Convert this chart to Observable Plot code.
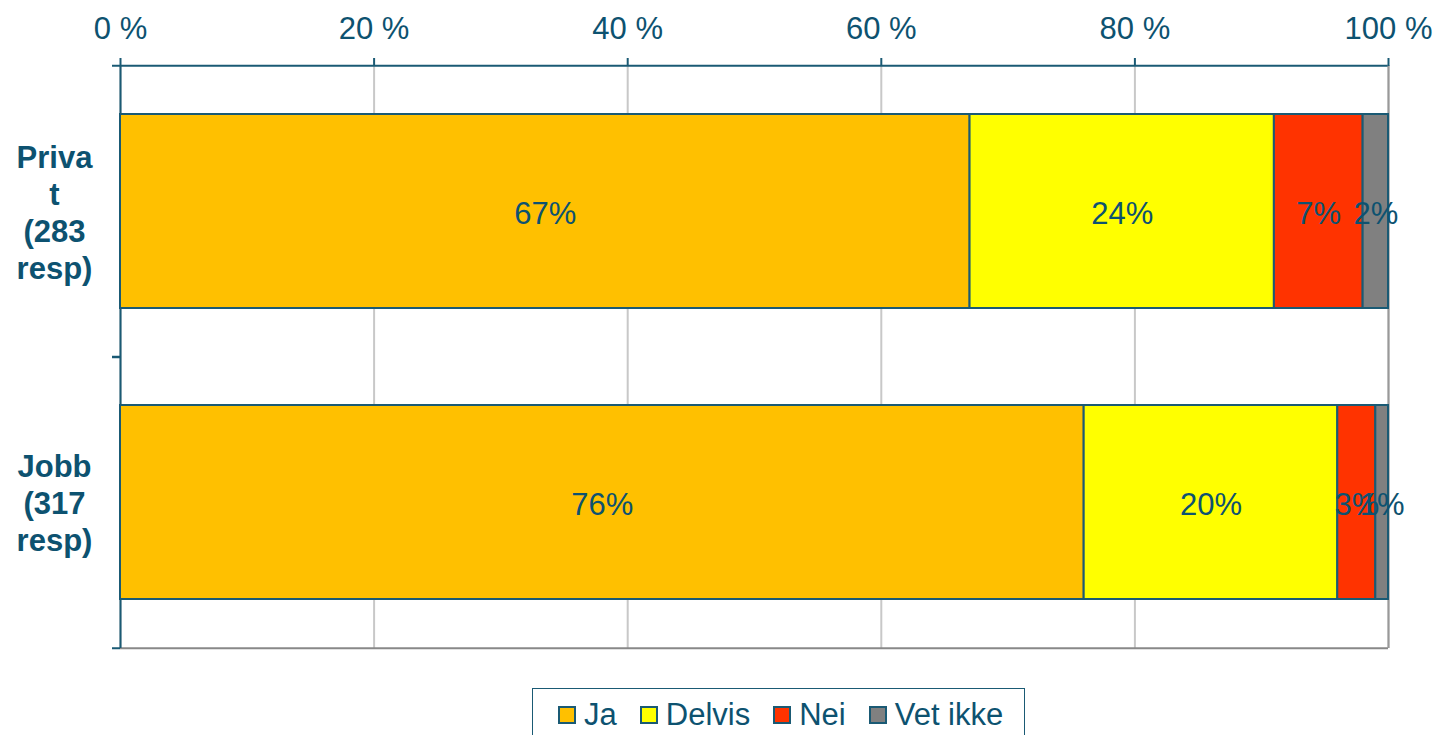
<!DOCTYPE html>
<html>
<head>
<meta charset="utf-8">
<script src="https://cdn.jsdelivr.net/npm/d3@7"></script>
<script src="https://cdn.jsdelivr.net/npm/@observablehq/plot@0.6"></script>
<style>
  html, body { margin: 0; padding: 0; background: #fff; }
  body { width: 1435px; height: 735px; overflow: hidden; font-family: "Liberation Sans", Arial, sans-serif; }
  #legend {
    position: absolute; left: 532px; top: 688px; width: 493px; height: 56px;
    border: 1px solid #1A5A74; box-sizing: border-box; padding: 8px 0 0 25px;
    display: flex; gap: 23px; align-items: flex-start;
    font-size: 31px; color: #0D5270;
  }
  .item { display: flex; align-items: center; gap: 8px; line-height: 36px; }
  .sw { width: 14px; height: 14px; border: 2px solid #1A5A74; }
</style>
</head>
<body>
<div id="chart"></div>
<div id="legend"></div>
<script>
const groups = ["Privat (283 resp)", "Jobb (317 resp)"];
const groupLabels = ["Priva\nt\n(283\nresp)", "Jobb\n(317\nresp)"];
const answers = ["Ja", "Delvis", "Nei", "Vet ikke"];
const colors = ["#FFC000", "#FFFF00", "#FF3300", "#808080"];
const privatValues = [67, 24, 7, 2];
const jobbValues = [76, 20, 3, 1];
const xTicks = [0, 20, 40, 60, 80, 100];

const seriesByGroup = [privatValues, jobbValues];
const data = [];
groups.forEach((g, gi) => answers.forEach((a, ai) => data.push({group: g, answer: a, value: seriesByGroup[gi][ai]})));

const teal = "#0D5270";
const lineTeal = "#1A5A74";
const labelOf = Object.fromEntries(groups.map((g, i) => [g, groupLabels[i]]));

const H = 670, MT = 65, MB = 22;
const step = (H - MT - MB) / 2;

const chart = Plot.plot({
  width: 1435,
  height: H,
  marginLeft: 120,
  marginRight: 47,
  marginTop: MT,
  marginBottom: MB,
  style: {fontFamily: "'Liberation Sans', Arial, sans-serif", fontSize: "31px", color: teal, background: "#fff"},
  x: {domain: [0, 100]},
  y: {domain: groups, paddingInner: 1/3, paddingOuter: 1/6},
  color: {domain: answers, range: colors},
  marks: [
    Plot.gridX(xTicks, {stroke: "#C8C8C8", strokeOpacity: 1, strokeWidth: 2}),
    Plot.ruleY([0], {y: () => groups[0], dy: -step/2, stroke: lineTeal, strokeWidth: 2}),
    Plot.ruleY([0], {y: () => groups[1], dy: step/2, stroke: "#888", strokeWidth: 2}),
    Plot.ruleX([100], {stroke: "#999", strokeWidth: 2}),
    Plot.ruleX([0], {stroke: lineTeal, strokeWidth: 2}),
    Plot.barX(data, {x: "value", y: "group", fill: "answer", stroke: lineTeal, strokeWidth: 2, inset: 0}),
    Plot.text(data, Plot.stackX({x: "value", y: "group", text: d => d.value + "%", fill: teal, fontSize: 31, dy: 3})),
    Plot.axisX({anchor: "top", ticks: xTicks, tickFormat: d => d + " %", tickSize: 8, tickPadding: 19, stroke: lineTeal, fill: teal, fontSize: 31, label: null, strokeWidth: 2}),
    Plot.axisY({tickSize: 0, tickPadding: 66, textAnchor: "middle", fontWeight: "bold", lineHeight: 1.19, tickFormat: d => labelOf[d], fill: teal, fontSize: 31, label: null}),
    Plot.axisY({tickSize: 8, tickFormat: () => "", dy: -step/2, stroke: lineTeal, label: null, strokeWidth: 2}),
    Plot.axisY({tickSize: 8, tickFormat: () => "", dy: step/2, stroke: lineTeal, label: null, strokeWidth: 2})
  ]
});
document.getElementById("chart").appendChild(chart);

const legend = document.getElementById("legend");
answers.forEach((a, i) => {
  const it = document.createElement("div");
  it.className = "item";
  const sw = document.createElement("span");
  sw.className = "sw";
  sw.style.background = colors[i];
  const t = document.createElement("span");
  t.textContent = a;
  it.appendChild(sw); it.appendChild(t);
  legend.appendChild(it);
});
</script>
</body>
</html>
